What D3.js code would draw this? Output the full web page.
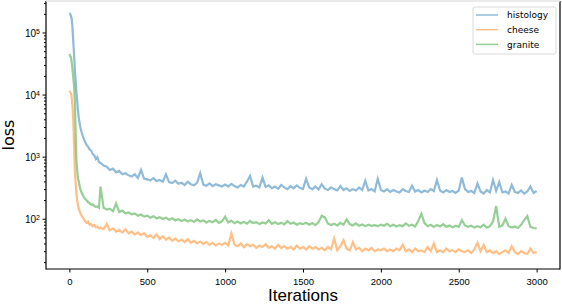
<!DOCTYPE html>
<html>
<head>
<meta charset="utf-8">
<script src="https://cdn.jsdelivr.net/npm/d3@7"></script>
<style>
  body { margin: 0; background: #fff; }
  svg { display: block; font-family: "DejaVu Sans", sans-serif; }
  .tick text { fill: #000; }
</style>
</head>
<body>
<div id="chart"></div>
<script>
/* CONSTANTS AND GLOBALS */
const width = 562,
  height = 304,
  margin = { top: 1, bottom: 35, left: 46, right: 2 };

/* DATA */
const seriesNames = ["histology", "cheese", "granite"];
const seriesColors = ["#1f77b4", "#ff7f0e", "#2ca02c"];

// iteration steps: dense at the start, then every 20
const iterations = [0, 5, 10, 15, 20, 25, 30, 35, 40, 45, 50, 55, 60, 70, 80, 90, 100,
  110, 120, 130, 140, 150, 160, 170, 180, 190, 200].concat(d3.range(220, 3001, 20));

const histology = [
  205000, 200000, 185000, 165000, 120000, 72000, 45000, 26000, 17000, 11000, 8000, 5600, 4300,
  3000, 2400, 2000, 1750, 1550, 1450, 1300, 1250, 1100, 1050, 920, 980, 820, 790,
  720, 690, 610, 640, 560, 590, 520, 540, 500, 480, 520, 455, 610, 440, 430,
  415, 450, 405, 420, 395, 520, 390, 375, 410, 365, 380, 350, 395, 360, 345, 380, 540, 355, 340, 370, 335, 360, 345, 330, 355,
  330, 365, 335, 320, 350, 330, 395, 490, 330, 340, 320, 460, 325, 345, 310, 330, 305, 350, 320, 300, 335, 310, 345, 315, 300,
  440, 320, 300, 330, 295, 360, 305, 290, 320, 300, 285, 335, 290, 310, 280, 300, 285, 320, 290, 410, 285, 300, 275, 440, 290,
  275, 300, 270, 290, 275, 265, 300, 280, 270, 340, 275, 290, 265, 285, 270, 300, 280, 420, 285, 265, 290, 270, 280, 260, 285,
  460, 300, 270, 280, 260, 370, 275, 255, 290, 265, 420, 280, 390, 265, 275, 255, 350, 270, 260, 285, 255, 275, 330, 260, 280
];

const cheese = [
  11500, 11000, 10500, 9000, 6500, 3800, 1600, 600, 380, 260, 200, 165, 145,
  124, 110, 100, 92, 86, 90, 80, 82, 76, 79, 73, 75, 70, 72,
  68, 82, 65, 70, 62, 66, 60, 68, 58, 62, 56, 60, 55, 58, 51,
  54, 49, 56, 47, 52, 46, 50, 44, 48, 43, 46, 42, 47, 41, 44, 40, 43, 39, 42, 38, 41, 37, 40, 38, 41,
  37, 58, 38, 36, 40, 35, 39, 36, 38, 34, 37, 35, 39, 34, 36, 33, 38, 34, 36, 33, 35, 32, 37, 33, 35,
  32, 36, 33, 35, 32, 34, 31, 35, 32, 48, 31, 36, 45, 33, 31, 42, 32, 34, 30, 33, 31, 34, 30, 32, 31,
  33, 30, 32, 30, 33, 31, 38, 30, 32, 29, 33, 30, 31, 29, 35, 30, 40, 29, 31, 29, 33, 30, 31, 29, 32,
  30, 29, 31, 28, 32, 41, 30, 38, 29, 31, 28, 30, 27, 29, 31, 28, 36, 29, 27, 30, 28, 27, 33, 28, 29
];

const granite = [
  45000, 42000, 40000, 33000, 26000, 19000, 14000, 8000, 2600, 900, 600, 450, 400,
  300, 260, 230, 210, 200, 185, 178, 168, 170, 160, 155, 158, 150, 330,
  150, 140, 145, 132, 175, 128, 135, 122, 126, 118, 122, 112, 117, 108, 112,
  104, 110, 101, 106, 99, 104, 96, 102, 94, 98, 92, 97, 90, 95, 89, 98, 90, 94, 87, 92, 88, 96, 86, 91, 108,
  87, 93, 85, 90, 84, 89, 83, 92, 85, 88, 82, 87, 84, 95, 83, 88, 82, 86, 81, 92, 83, 87, 80, 85, 82,
  86, 80, 85, 79, 88, 112, 105, 84, 79, 83, 78, 86, 80, 98, 82, 78, 84, 77, 81, 76, 80, 77, 79, 76, 80,
  77, 83, 76, 80, 75, 79, 76, 84, 77, 80, 75, 92, 120, 85, 76, 80, 74, 79, 75, 82, 74, 78, 73, 77, 74,
  95, 78, 74, 77, 72, 76, 73, 80, 72, 76, 90, 160, 74, 78, 100, 76, 72, 75, 71, 80, 95, 110, 74, 71, 70
];

const seriesValues = [histology, cheese, granite];
const xTicks = [0, 500, 1000, 1500, 2000, 2500, 3000];
const yMajor = [1e2, 1e3, 1e4, 1e5];

/* SCALES */
const xScale = d3.scaleLinear()
  .domain([-150, 3150])
  .range([margin.left, width - margin.right]);

const yScale = d3.scaleLog()
  .domain([15.5, 3.1e5])
  .range([height - margin.bottom, margin.top + 1]);

/* SVG */
const svg = d3.select("#chart")
  .append("svg")
  .attr("width", width)
  .attr("height", height);

// lines
const line = d3.line()
  .x((d, i) => xScale(iterations[i]))
  .y(d => yScale(d));

svg.append("g")
  .selectAll("path")
  .data(seriesValues)
  .join("path")
  .attr("fill", "none")
  .attr("stroke", (d, i) => seriesColors[i])
  .attr("stroke-opacity", 0.5)
  .attr("stroke-width", 2.2)
  .attr("stroke-linejoin", "miter")
  .attr("d", line);

// axes
const xAxis = d3.axisBottom(xScale)
  .tickValues(xTicks)
  .tickSize(3.5)
  .tickSizeOuter(0)
  .tickFormat(d3.format("d"));

svg.append("g")
  .attr("class", "axis x-axis")
  .attr("transform", `translate(0,${height - margin.bottom})`)
  .call(xAxis)
  .call(g => g.select(".domain").remove())
  .call(g => g.selectAll("text").attr("font-size", 9.5).attr("dy", "0.95em"))
  .append("text")
  .attr("fill", "#000")
  .attr("x", (margin.left + width - margin.right) / 2)
  .attr("y", 32)
  .attr("font-size", 17)
  .attr("text-anchor", "middle")
  .text("Iterations");

// minor ticks for the log axis
const yMinor = [];
[10, 100, 1000, 10000, 100000].forEach(dec => {
  for (let k = 2; k <= 9; k++) {
    const v = dec * k;
    if (v >= 15.5 && v <= 3.1e5) yMinor.push(v);
  }
});

svg.append("g")
  .attr("class", "axis y-minor")
  .attr("transform", `translate(${margin.left},0)`)
  .call(d3.axisLeft(yScale).tickValues(yMinor).tickSize(2).tickFormat(""))
  .call(g => g.select(".domain").remove());

const yAxis = svg.append("g")
  .attr("class", "axis y-axis")
  .attr("transform", `translate(${margin.left},0)`)
  .call(d3.axisLeft(yScale).tickValues(yMajor).tickSize(3.5).tickFormat(""))
  .call(g => g.select(".domain").remove());

// "10" with a raised exponent
const yLabel = yAxis.selectAll(".tick")
  .append("text")
  .attr("fill", "#000")
  .attr("x", -6)
  .attr("dy", "0.4em")
  .attr("text-anchor", "end")
  .attr("font-size", 10);
yLabel.append("tspan").text("10");
yLabel.append("tspan")
  .attr("dy", "-0.45em")
  .attr("font-size", 7)
  .text(d => String(Math.round(Math.log10(d))));

svg.append("text")
  .attr("transform", `translate(14,${(margin.top + height - margin.bottom) / 2}) rotate(-90)`)
  .attr("text-anchor", "middle")
  .attr("font-size", 16)
  .text("loss");

// spines
const x0 = margin.left, x1 = width - margin.right,
  y0 = margin.top, y1 = height - margin.bottom;
svg.append("line").attr("x1", x0).attr("x2", x0).attr("y1", y0).attr("y2", y1 + 0.5)
  .attr("stroke", "#000").attr("stroke-width", 1.2);
svg.append("line").attr("x1", x0).attr("x2", x1).attr("y1", y1).attr("y2", y1)
  .attr("stroke", "#000").attr("stroke-width", 1.2);
svg.append("line").attr("x1", x1).attr("x2", x1).attr("y1", y0).attr("y2", y1 + 0.5)
  .attr("stroke", "#000").attr("stroke-width", 1.2);
svg.append("line").attr("x1", x0).attr("x2", x1).attr("y1", y0).attr("y2", y0)
  .attr("stroke", "#e4e4e4").attr("stroke-width", 1.5);

// legend
const legend = svg.append("g").attr("transform", "translate(473,7)");
legend.append("rect")
  .attr("width", 83).attr("height", 47).attr("rx", 2)
  .attr("fill", "#fff").attr("fill-opacity", 0.8)
  .attr("stroke", "#d0d0d0").attr("stroke-width", 0.8);
const item = legend.selectAll(".item")
  .data(seriesNames)
  .join("g")
  .attr("class", "item")
  .attr("transform", (d, i) => `translate(0,${8 + i * 14.7})`);
item.append("line")
  .attr("x1", 3).attr("x2", 25)
  .attr("stroke", (d, i) => seriesColors[i])
  .attr("stroke-opacity", 0.5)
  .attr("stroke-width", 1.5);
item.append("text")
  .attr("x", 34)
  .attr("dy", "0.35em")
  .attr("font-size", 9)
  .text(d => d);
</script>
</body>
</html>
